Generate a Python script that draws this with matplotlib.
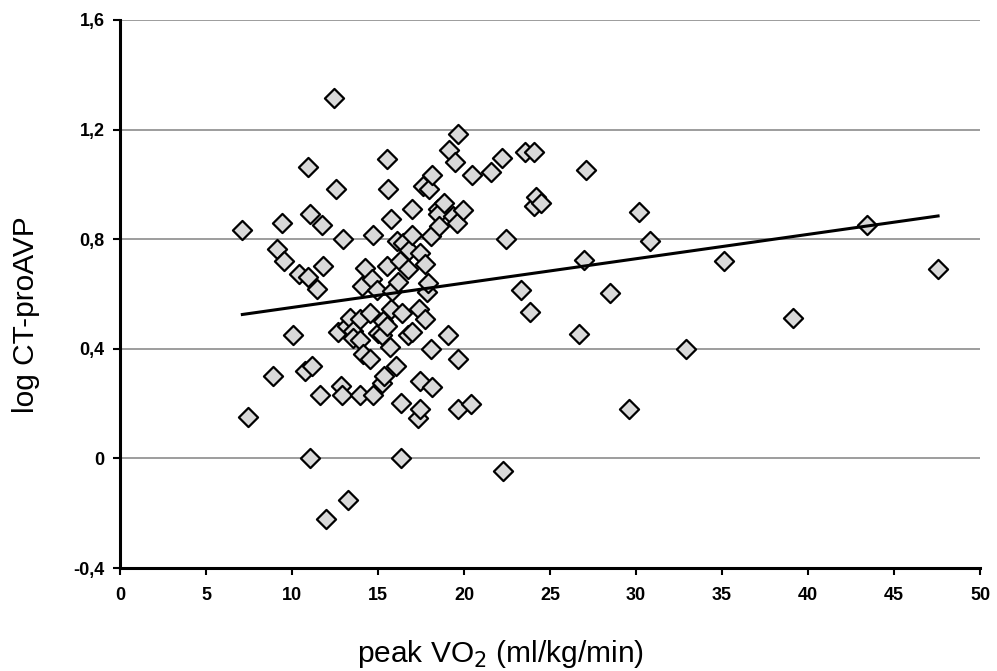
import matplotlib
matplotlib.use("Agg")
import matplotlib.pyplot as plt
import numpy as np
from matplotlib.ticker import FuncFormatter

peak_vo2 = [7.11, 7.42, 8.91, 9.11, 9.44, 9.55, 10.04, 10.41, 10.76, 10.91,
            10.93, 11.05, 11.15, 11.05, 11.44, 11.63, 11.74, 11.82, 11.96, 12.44,
            12.54, 12.69, 12.83, 12.95, 12.92, 13.24, 13.18, 13.37, 13.56, 13.56,
            13.95, 13.95, 13.95, 14.05, 14.11, 14.24, 14.53, 14.53, 14.63, 14.73,
            14.73, 14.92, 15.02, 15.22, 15.22, 15.31, 15.35, 15.51, 15.51, 15.54,
            15.56, 15.74, 15.70, 15.74, 15.80, 16.05, 16.09, 16.18, 16.28, 16.38,
            16.34, 16.34, 16.47, 16.76, 16.76, 16.80, 16.96, 16.96, 16.96, 17.34,
            17.40, 17.44, 17.44, 17.44, 17.63, 17.73, 17.73, 17.83, 17.92, 17.97,
            18.06, 18.08, 18.16, 18.16, 18.51, 18.51, 18.56, 18.84, 19.05, 19.15,
            19.38, 19.49, 19.58, 19.63, 19.65, 19.67, 19.96, 20.39, 20.45, 21.57,
            22.21, 22.27, 22.44, 23.31, 23.55, 23.84, 24.07, 24.07, 24.19, 24.48,
            26.69, 26.98, 27.09, 28.49, 29.59, 30.17, 30.81, 32.91, 35.12, 39.13,
            43.43, 47.56]
log_ctproavp = [0.832, 0.151, 0.300, 0.765, 0.860, 0.720, 0.451, 0.672, 0.319, 0.663,
                1.063, 0.891, 0.339, 0.000, 0.620, 0.230, 0.851, 0.702, -0.220, 1.314,
                0.982, 0.461, 0.264, 0.802, 0.230, -0.150, 0.485, 0.514, 0.465, 0.441,
                0.510, 0.431, 0.230, 0.631, 0.382, 0.696, 0.532, 0.361, 0.653, 0.814,
                0.230, 0.614, 0.459, 0.449, 0.276, 0.501, 0.300, 0.702, 0.483, 1.094,
                0.984, 0.872, 0.408, 0.544, 0.611, 0.339, 0.793, 0.643, 0.720, 0.532,
                0.201, 0.000, 0.785, 0.690, 0.449, 0.760, 0.912, 0.814, 0.461, 0.149,
                0.544, 0.748, 0.282, 0.181, 0.994, 0.708, 0.510, 0.607, 0.641, 0.982,
                0.400, 0.811, 1.033, 0.260, 0.909, 0.891, 0.848, 0.933, 0.451, 1.124,
                0.884, 1.081, 0.860, 0.361, 1.185, 0.181, 0.906, 0.200, 1.033, 1.044,
                1.095, -0.047, 0.799, 0.613, 1.120, 0.533, 1.120, 0.920, 0.953, 0.931,
                0.453, 0.723, 1.051, 0.602, 0.182, 0.901, 0.792, 0.401, 0.719, 0.511,
                0.850, 0.690]

trend_intercept = 0.462
trend_slope = 0.00889
x_ticks = [0, 5, 10, 15, 20, 25, 30, 35, 40, 45, 50]
y_ticks = [-0.4, 0.0, 0.4, 0.8, 1.2, 1.6]

plt.rcParams['font.family'] = ['Liberation Sans', 'DejaVu Sans']

fig = plt.figure(figsize=(9.97, 6.71), dpi=100)
ax = fig.add_axes([0.1204, 0.1535, 0.8626, 0.8167])

for yv in y_ticks[1:]:
    ax.axhline(yv, color='#8c8c8c', lw=1.2, zorder=0)

ax.scatter(peak_vo2, log_ctproavp, marker='D', s=95, facecolor='#d9d9d9',
           edgecolor='black', linewidths=1.6, zorder=3)

xs = np.array([min(peak_vo2), max(peak_vo2)])
ax.plot(xs, trend_intercept + trend_slope * xs, color='black', lw=2.2, zorder=4)

ax.set_xlim(0, 50)
ax.set_ylim(-0.4, 1.6)
ax.set_xticks(x_ticks)
ax.set_yticks(y_ticks)

def yfmt(v, pos):
    if abs(v) < 1e-9:
        return '0'
    return ('%.1f' % v).replace('.', ',')

ax.yaxis.set_major_formatter(FuncFormatter(yfmt))
ax.xaxis.set_major_formatter(FuncFormatter(lambda v, p: '%d' % v))

for s in ['top', 'right']:
    ax.spines[s].set_visible(False)
for s in ['left', 'bottom']:
    ax.spines[s].set_linewidth(2.2)
    ax.spines[s].set_color('black')

ax.tick_params(axis='both', direction='out', length=5, width=1.5, labelsize=13, pad=6)
for lab in ax.get_xticklabels() + ax.get_yticklabels():
    lab.set_fontweight('bold')
ax.tick_params(axis='x', pad=9)

ax.set_xlabel('peak VO$_2$ (ml/kg/min)', fontsize=21.5)
ax.set_ylabel('log CT-proAVP', fontsize=21.5)
ax.xaxis.set_label_coords(0.442, -0.128)
ax.yaxis.set_label_coords(-0.093, 0.462)

fig.savefig('out.png', dpi=100)
